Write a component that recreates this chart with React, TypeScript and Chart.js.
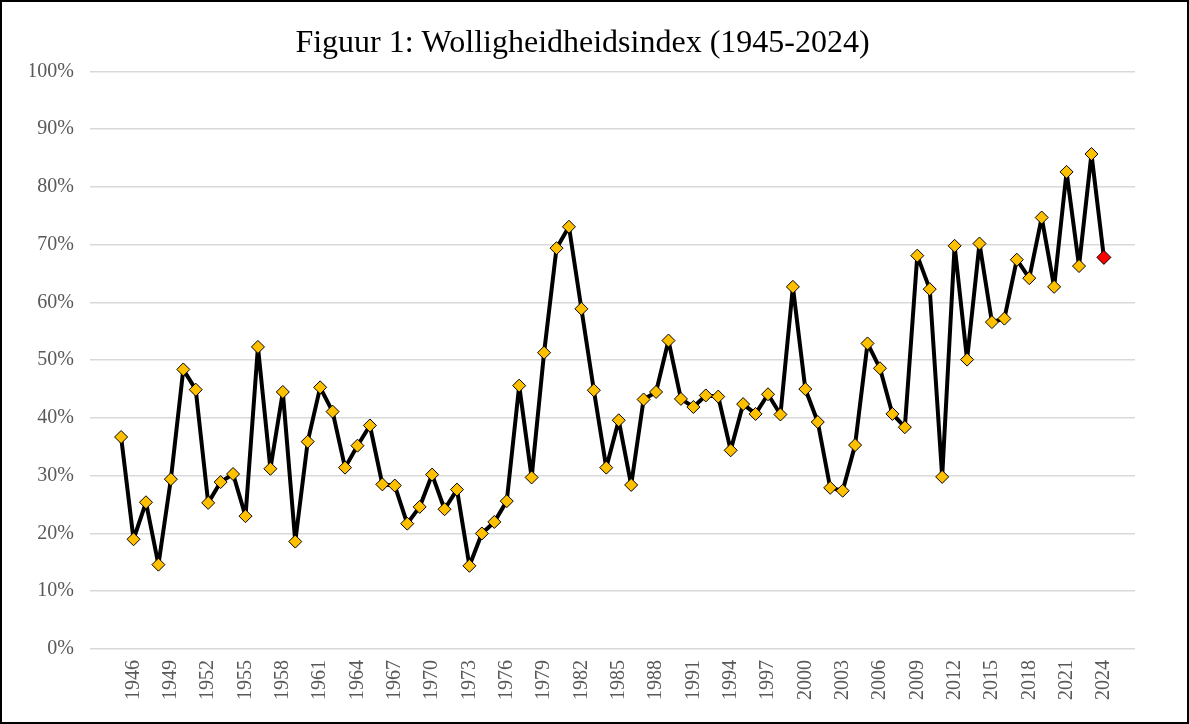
import React, { useEffect, useRef } from "react";
import { Chart, registerables } from "chart.js";

Chart.register(...registerables);

const TITLE = "Figuur 1: Wolligheidheidsindex (1945-2024)";

const years: number[] = [
  1945, 1946, 1947, 1948, 1949, 1950, 1951, 1952, 1953, 1954,
  1955, 1956, 1957, 1958, 1959, 1960, 1961, 1962, 1963, 1964,
  1965, 1966, 1967, 1968, 1969, 1970, 1971, 1972, 1973, 1974,
  1975, 1976, 1977, 1978, 1979, 1980, 1981, 1982, 1983, 1984,
  1985, 1986, 1987, 1988, 1989, 1990, 1991, 1992, 1993, 1994,
  1995, 1996, 1997, 1998, 1999, 2000, 2001, 2002, 2003, 2004,
  2005, 2006, 2007, 2008, 2009, 2010, 2011, 2012, 2013, 2014,
  2015, 2016, 2017, 2018, 2019, 2020, 2021, 2022, 2023, 2024,
];

const values: number[] = [
  36.7, 19.0, 25.4, 14.6, 29.4, 48.4, 44.9, 25.3, 28.9, 30.3,
  23.0, 52.3, 31.2, 44.5, 18.6, 35.9, 45.3, 41.1, 31.4, 35.2,
  38.7, 28.5, 28.3, 21.7, 24.6, 30.2, 24.2, 27.6, 14.4, 20.0,
  22.0, 25.6, 45.6, 29.7, 51.3, 69.4, 73.1, 58.9, 44.8, 31.4,
  39.6, 28.4, 43.2, 44.5, 53.4, 43.3, 41.9, 43.9, 43.7, 34.4,
  42.4, 40.7, 44.1, 40.6, 62.7, 45.0, 39.3, 27.9, 27.4, 35.3,
  52.9, 48.6, 40.7, 38.4, 68.1, 62.3, 29.8, 69.8, 50.1, 70.2,
  56.6, 57.2, 67.4, 64.2, 74.7, 62.7, 82.6, 66.3, 85.7, 67.8,
];

const tickYears: number[] = [
  1946, 1949, 1952, 1955, 1958, 1961, 1964, 1967, 1970, 1973, 1976,
  1979, 1982, 1985, 1988, 1991, 1994, 1997, 2000, 2003, 2006, 2009,
  2012, 2015, 2018, 2021, 2024,
];

const yTicks: number[] = [0, 10, 20, 30, 40, 50, 60, 70, 80, 90, 100];

const W = 1189;
const H = 724;
const SERIF = "'Liberation Serif', 'Times New Roman', serif";

export default function App() {
  const ref = useRef<HTMLCanvasElement | null>(null);

  useEffect(() => {
    const canvas = ref.current;
    if (!canvas) return;
    const n = values.length;
    const bg = values.map((_, i) => (i === n - 1 ? "#FF0000" : "#FFC000"));
    const radii = values.map((_, i) => (i === n - 1 ? 7 : 6.5));

    const framePlugin = {
      id: "frame",
      beforeDraw(chart: any) {
        const c = chart.ctx;
        c.save();
        c.fillStyle = "#ffffff";
        c.fillRect(0, 0, chart.width, chart.height);
        c.restore();
      },
      afterDraw(chart: any) {
        const c = chart.ctx;
        c.save();
        c.strokeStyle = "#000000";
        c.lineWidth = 2;
        c.strokeRect(1, 1, chart.width - 2, chart.height - 2);
        c.restore();
      },
    };

    const chart = new Chart(canvas, {
      type: "line",
      data: {
        datasets: [
          {
            data: years.map((y, i) => ({ x: y, y: values[i] })),
            borderColor: "#000000",
            borderWidth: 4,
            borderJoinStyle: "round",
            borderCapStyle: "round",
            pointStyle: "rectRot",
            pointRadius: radii,
            pointBackgroundColor: bg,
            pointBorderColor: "#000000",
            pointBorderWidth: 1,
            tension: 0,
          },
        ],
      },
      options: {
        animation: false,
        responsive: false,
        devicePixelRatio: 1,
        layout: { padding: { left: 30, right: 54, top: 0, bottom: 0 } },
        plugins: {
          legend: { display: false },
          tooltip: { enabled: false },
          title: {
            display: true,
            text: TITLE,
            color: "#000000",
            font: { family: SERIF, size: 32, weight: "normal", lineHeight: 1.2 },
            padding: { top: 24, bottom: 9 },
          },
        },
        scales: {
          x: {
            type: "linear",
            min: 1942.5,
            max: 2026.5,
            grid: { display: false, drawTicks: false },
            border: { display: false },
            afterBuildTicks: (scale: any) => {
              scale.ticks = tickYears.map((v) => ({ value: v }));
            },
            afterFit: (scale: any) => {
              scale.height = 75;
            },
            ticks: {
              autoSkip: false,
              minRotation: 90,
              maxRotation: 90,
              padding: 11,
              color: "#595959",
              font: { family: SERIF, size: 20 },
              callback: (v: any) => String(v),
            },
          },
          y: {
            min: 0,
            max: 100,
            afterBuildTicks: (scale: any) => {
              scale.ticks = yTicks.map((v) => ({ value: v }));
            },
            afterFit: (scale: any) => {
              scale.width = 60;
            },
            grid: { color: "#D9D9D9", lineWidth: 1.5, drawTicks: false },
            border: { display: false },
            ticks: {
              padding: 16,
              color: "#595959",
              font: { family: SERIF, size: 20 },
              callback: (v: any) => v + "%",
            },
          },
        },
      },
      plugins: [framePlugin],
    } as any);

    return () => chart.destroy();
  }, []);

  return (
    <div style={{ position: "fixed", left: 0, top: 0, width: W, height: H, background: "#fff" }}>
      <canvas ref={ref} width={W} height={H} style={{ display: "block", width: W, height: H }} />
    </div>
  );
}
